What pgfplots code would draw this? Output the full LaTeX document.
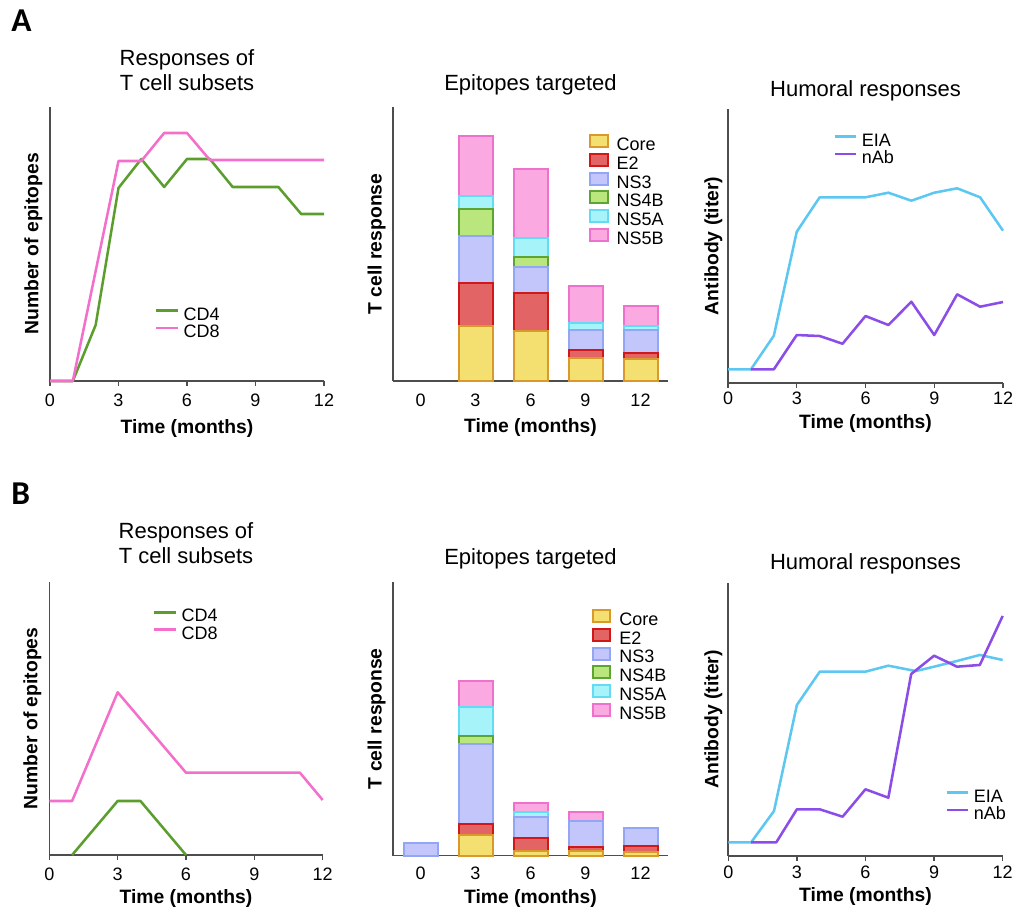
\documentclass[border=0pt]{standalone}
\usepackage{fontspec}
\setmainfont{Liberation Sans}
\newfontfamily\letterfont{Carlito}
\usepackage{pgfplots}
\pgfplotsset{compat=1.18}

\definecolor{axisgray}{HTML}{4D4D4D}
\definecolor{cdfour}{HTML}{5C9E2E}
\definecolor{cdeight}{HTML}{F46FCB}
\definecolor{eia}{HTML}{5CC8F2}
\definecolor{nab}{HTML}{8B4DE8}
\definecolor{coreF}{HTML}{F4E070}\definecolor{coreD}{HTML}{D99A2B}
\definecolor{etwoF}{HTML}{E26464}\definecolor{etwoD}{HTML}{D01818}
\definecolor{nsthreeF}{HTML}{C3C6FA}\definecolor{nsthreeD}{HTML}{92A6F5}
\definecolor{nsfourF}{HTML}{B9E77E}\definecolor{nsfourD}{HTML}{5DA533}
\definecolor{nsfiveaF}{HTML}{A6F4FA}\definecolor{nsfiveaD}{HTML}{63DBF5}
\definecolor{nsfivebF}{HTML}{FBA9E1}\definecolor{nsfivebD}{HTML}{F070CD}

\newcommand{\titlefont}{\fontsize{16.5}{20}\selectfont}

\pgfplotsset{
  panel/.style={
    scale only axis, anchor=south west,
    axis x line=bottom, axis y line=left,
    axis line style={-, draw=axisgray, line width=1.2pt},
    ytick=\empty, ymin=0,
    tick style={draw=axisgray, line width=1pt},
    major tick length=3.75pt, tick align=outside,
    ticklabel style={font=\fontsize{13.5}{16}\selectfont},
    /pgf/number format/assume math mode=true,
    label style={font=\bfseries\fontsize{14.5}{17}\selectfont},
    xlabel={Time (months)},
    clip=false,
    title style={at={(axis description cs:0.5,1)}, anchor=base, font=\titlefont},
  },
  linepanel/.style={panel, xmin=0, xmax=12, xtick={0,3,6,9,12}},
  barpanel/.style={panel, xmin=-0.5, xmax=4.5, xtick={0,1,2,3,4},
    xticklabels={0,3,6,9,12}, major tick length=0pt,
    ybar, bar width=25.5pt, bar shift=0pt,
    ylabel={T cell response}, reverse legend,
    legend image code/.code={\draw[##1, line width=1.5pt] (0pt,-0.3pt) rectangle (13pt,8.7pt);},
    legend style={draw=none, fill=none, inner sep=0pt, column sep=6pt, row sep=-1.6pt,
      font=\fontsize{13.5}{16}\selectfont,
      nodes={inner sep=0pt, text height=9.2pt, text depth=3.4pt}},
    legend cell align=left,
  },
  linelegend/.style={
    legend image code/.code={\draw[##1] (0pt,4.3pt) -- (16pt,4.3pt);},
    legend style={draw=none, fill=none, inner sep=0pt, column sep=3.5pt, row sep=0pt,
      font=\fontsize{13.5}{16}\selectfont,
      nodes={inner sep=0pt, text height=9.5pt, text depth=3.6pt}},
    legend cell align=left,
  },
  seg/.style 2 args={fill=#1, draw=#2, line width=1.5pt},
  curve/.style={#1, line width=1.9pt, line join=round},
}

\begin{document}
\begin{tikzpicture}
\useasboundingbox (0,0) rectangle (762pt,684.75pt);

\node[anchor=base west, font=\letterfont\bfseries\fontsize{25}{30}\selectfont] at (5pt,661pt) {A};
\node[anchor=base west, font=\letterfont\bfseries\fontsize{25}{30}\selectfont] at (5pt,306pt) {B};

% ---------------- A1 ----------------
\begin{axis}[linepanel, linelegend, at={(37.5pt,399pt)}, width=205.5pt, height=205.5pt, ymax=274,
  xticklabel style={anchor=base, yshift=-15.5pt},
  xlabel style={at={(axis description cs:0.5,0)}, anchor=base, yshift=-39.2pt},
  ylabel={Number of epitopes},
  ylabel style={at={(axis description cs:0,0.5)}, anchor=base, yshift=8.8pt},
  title={T cell subsets}, title style={yshift=6.2pt},
  legend style={at={(axis description cs:0.383,0.269)}, anchor=north west}]
\addplot[curve=cdfour] coordinates {(0,0)(1,0)(2,56)(3,193)(4,222)(5,194)(6,222)(7,222)(8,194)(10,194)(11,167)(12,167)};
\addlegendentry{CD4}
\addplot[curve=cdeight] coordinates {(0,0)(1,0)(3,220)(4,220)(5,248)(6,248)(7,221)(12,221)};
\addlegendentry{CD8}
\node[anchor=base, font=\titlefont, yshift=31pt] at (axis description cs:0.5,1) {Responses of};
\end{axis}

% ---------------- A2 ----------------
\begin{axis}[barpanel, at={(294.75pt,399pt)}, width=206.25pt, height=205.5pt, ymax=274,
  xticklabel style={anchor=base, yshift=-19.3pt},
  xlabel style={at={(axis description cs:0.5,0)}, anchor=base, yshift=-38.8pt},
  ylabel style={at={(axis description cs:0,0.5)}, anchor=base, yshift=8.6pt},
  title={Epitopes targeted}, title style={yshift=6.2pt},
  legend style={at={(axis description cs:0.713,0.903)}, anchor=north west}]
% tops of the stacked segments (drawn from the top segment down)
\addplot[seg={nsfivebF}{nsfivebD}] coordinates {(1,245)(2,211.7)(3,95.3)(4,75.3)};
\addlegendentry{NS5B}
\addplot[seg={nsfiveaF}{nsfiveaD}] coordinates {(1,185)(2,143.3)(3,57.7)(4,55.3)};
\addlegendentry{NS5A}
\addplot[seg={nsfourF}{nsfourD}] coordinates {(1,172)(2,123.7)};
\addlegendentry{NS4B}
\addplot[seg={nsthreeF}{nsthreeD}] coordinates {(1,145)(2,114.3)(3,51)(4,51)};
\addlegendentry{NS3}
\addplot[seg={etwoF}{etwoD}] coordinates {(1,98.3)(2,87.7)(3,31)(4,27.7)};
\addlegendentry{E2}
\addplot[seg={coreF}{coreD}] coordinates {(1,55.3)(2,50.3)(3,23.3)(4,22)};
\addlegendentry{Core}
\end{axis}

% ---------------- A3 ----------------
\begin{axis}[linepanel, linelegend, at={(546pt,397.7pt)}, width=206.25pt, height=205.3pt, ymax=273.7,
  xticklabel style={anchor=base, yshift=-12.9pt},
  xlabel style={at={(axis description cs:0.5,0)}, anchor=base, yshift=-34.2pt},
  ylabel={Antibody (titer)},
  ylabel style={at={(axis description cs:0,0.5)}, anchor=base, yshift=7.3pt},
  title={Humoral responses}, title style={yshift=3.2pt},
  legend style={at={(axis description cs:0.382,0.912)}, anchor=north west}]
\addplot[curve=eia] coordinates {(0,13.4)(1,13.4)(2,47)(3,151)(4,185.4)(6,185.4)(7,190)(8,182)(9,190)(10,194.4)(11,185.4)(12,152)};
\addlegendentry{EIA}
\addplot[curve=nab] coordinates {(1,13.4)(2,13.4)(3,47.7)(4,46.7)(5,39)(6,66.7)(7,57.7)(8,81)(9,47.7)(10,88.4)(11,76)(12,80.7)};
\addlegendentry{nAb}
\end{axis}

% ---------------- B1 ----------------
\begin{axis}[linepanel, linelegend, at={(37pt,43.5pt)}, width=205pt, height=205pt, ymax=273.3,
  xticklabel style={anchor=base, yshift=-15pt},
  xlabel style={at={(axis description cs:0.5,0)}, anchor=base, yshift=-36.2pt},
  ylabel={Number of epitopes},
  ylabel style={at={(axis description cs:0,0.5)}, anchor=base, yshift=9pt},
  title={T cell subsets}, title style={yshift=7.3pt},
  legend style={at={(axis description cs:0.379,0.9)}, anchor=north west}]
\addplot[curve=cdfour] coordinates {(1,0)(3,54)(4,54)(6,0)};
\addlegendentry{CD4}
\addplot[curve=cdeight] coordinates {(0,54)(1,54)(3,162.7)(6,82.3)(11,82.3)(12,55)};
\addlegendentry{CD8}
\node[anchor=base, font=\titlefont, yshift=32pt] at (axis description cs:0.5,1) {Responses of};
\end{axis}

% ---------------- B2 ----------------
\begin{axis}[barpanel, at={(294.75pt,43pt)}, width=206.25pt, height=205.5pt, ymax=274,
  xticklabel style={anchor=base, yshift=-18.2pt},
  xlabel style={at={(axis description cs:0.5,0)}, anchor=base, yshift=-35.7pt},
  ylabel style={at={(axis description cs:0,0.5)}, anchor=base, yshift=8.6pt},
  title={Epitopes targeted}, title style={yshift=6.5pt},
  legend style={at={(axis description cs:0.7225,0.902)}, anchor=north west}]
\addplot[seg={nsfivebF}{nsfivebD}] coordinates {(1,174.7)(2,52.4)(3,43.4)};
\addlegendentry{NS5B}
\addplot[seg={nsfiveaF}{nsfiveaD}] coordinates {(1,149)(2,44)};
\addlegendentry{NS5A}
\addplot[seg={nsfourF}{nsfourD}] coordinates {(1,120)};
\addlegendentry{NS4B}
\addplot[seg={nsthreeF}{nsthreeD}] coordinates {(0,12.4)(1,111.4)(2,38.4)(3,35)(4,27.4)};
\addlegendentry{NS3}
\addplot[seg={etwoF}{etwoD}] coordinates {(1,31.7)(2,17.4)(3,8.4)(4,10)};
\addlegendentry{E2}
\addplot[seg={coreF}{coreD}] coordinates {(1,20.7)(2,5)(3,4.7)(4,3.4)};
\addlegendentry{Core}
\end{axis}

% ---------------- B3 ----------------
\begin{axis}[linepanel, linelegend, at={(546.2pt,42.75pt)}, width=205.8pt, height=205pt, ymax=273.3,
  xticklabel style={anchor=base, yshift=-12.9pt},
  xlabel style={at={(axis description cs:0.5,0)}, anchor=base, yshift=-34.3pt},
  ylabel={Antibody (titer)},
  ylabel style={at={(axis description cs:0,0.5)}, anchor=base, yshift=7.5pt},
  title={Humoral responses}, title style={yshift=3.5pt},
  legend style={at={(axis description cs:0.79,0.244)}, anchor=north west}]
\addplot[curve=eia] coordinates {(0,13.7)(1,13.7)(2,45)(3,151)(4,184.3)(6,184.3)(7,190.3)(8.2,184.9)(9,189.3)(10,195)(11,201)(12,196)};
\addlegendentry{EIA}
\addplot[curve=nab] coordinates {(1,13.7)(2.1,13.7)(3,46.7)(4,46.7)(5,39.3)(6,66.7)(7,58.3)(8,182)(9,200.3)(10,189.3)(11,191)(12,240)};
\addlegendentry{nAb}
\end{axis}
\end{tikzpicture}
\end{document}
